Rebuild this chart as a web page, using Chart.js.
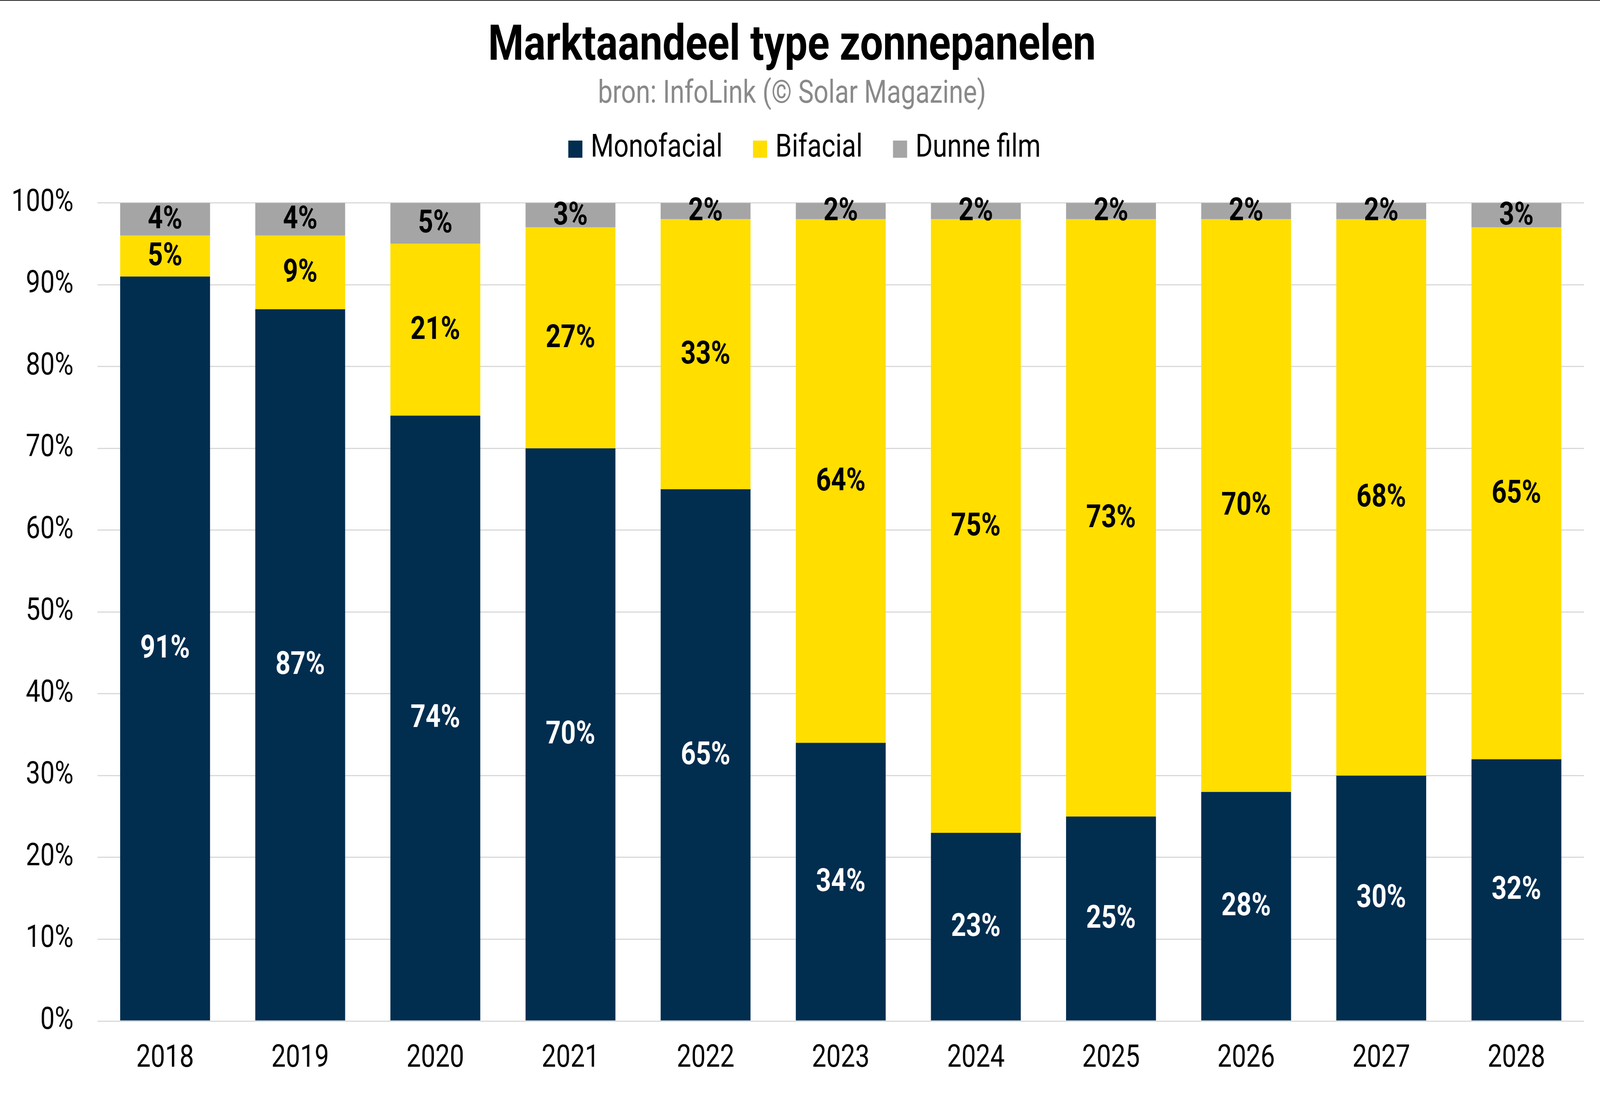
<!DOCTYPE html>
<html>
<head>
<meta charset="utf-8">
<title>Marktaandeel type zonnepanelen</title>
<script src="https://cdn.jsdelivr.net/npm/chart.js@4.4.1/dist/chart.umd.min.js"></script>
<style>
html,body{margin:0;padding:0;background:#fff;overflow:hidden;width:100%;height:100%}
canvas{display:block}
</style>
</head>
<body>
<canvas id="c" width="4989" height="2807" style="width:100vw;height:100vh"></canvas>
<script>
// ─── DATA ────────────────────────────────────────────────────
const years=['2018','2019','2020','2021','2022','2023','2024','2025','2026','2027','2028'];
const mono=[91,87,74,70,65,34,23,25,28,30,32];
const bifacial=[5,9,21,27,33,64,75,73,70,68,65];
const thinFilm=[4,4,5,3,2,2,2,2,2,2,3];
const seriesNames=['Monofacial','Bifacial','Dunne film'];
const yTicks=[0,10,20,30,40,50,60,70,80,90,100];

// ─── STYLE ───────────────────────────────────────────────────
const NAVY='#012d4f',YEL='#ffde00',GRY='#a5a5a5',GRID='#d9d9d9';
Chart.defaults.font.family='Roboto';
Chart.defaults.color='#000';

// bg + thin top rule
const bgPlug={id:'bg',
  beforeDraw(chart){const ctx=chart.ctx;ctx.save();ctx.fillStyle='#fff';ctx.fillRect(0,0,chart.width,chart.height);
    ctx.fillStyle='#222';ctx.fillRect(0,0,chart.width,2);ctx.restore()}
};
// legend row — drawn by hand so it sits between subtitle and plot
const legendRow={id:'legendRow',
  afterDraw(chart){
    const ctx=chart.ctx,cy=378,box=44,gap=26,sp=95;
    ctx.save();ctx.font='400 82px Roboto';ctx.textBaseline='middle';ctx.textAlign='left';
    const items=chart.data.datasets.map(d=>({t:d.label,c:d.backgroundColor,w:ctx.measureText(d.label).width}));
    const tot=items.reduce((s,it)=>s+box+gap+it.w,0)+sp*(items.length-1);
    let x=chart.width/2+14-tot/2;
    items.forEach(it=>{ctx.fillStyle=it.c;ctx.fillRect(x,cy-box/2+4,box,box);
      ctx.fillStyle='#000';ctx.fillText(it.t,x+box+gap,cy+2);x+=box+gap+it.w+sp});
    ctx.restore()}
};
// segment labels, centred in each stacked piece
const segLabels={id:'segLabels',
  afterDatasetsDraw(chart){
    const ctx=chart.ctx;ctx.save();ctx.font='700 82px Roboto';ctx.textAlign='center';ctx.textBaseline='middle';
    chart.data.datasets.forEach((ds,di)=>{const meta=chart.getDatasetMeta(di);if(meta.hidden)return;
      ctx.fillStyle=di===0?'#fff':'#000';
      meta.data.forEach((el,i)=>{const v=ds.data[i];if(v==null)return;
        ctx.fillText(Math.round(v)+'%',el.x,(el.y+el.base)/2+3)})});
    ctx.restore()}
};

const mk=(label,data,color)=>({label,data,backgroundColor:color,borderWidth:0,barPercentage:0.665,categoryPercentage:1});

new Chart(document.getElementById('c'),{
  type:'bar',
  data:{labels:years,datasets:[mk(seriesNames[0],mono,NAVY),mk(seriesNames[1],bifacial,YEL),mk(seriesNames[2],thinFilm,GRY)]},
  options:{responsive:false,devicePixelRatio:1,animation:false,
    layout:{padding:{top:0,right:50,bottom:0,left:0}},
    plugins:{
      title:{display:true,text:'Marktaandeel type zonnepanelen',color:'#000',font:{size:127,weight:'700'},padding:{top:45,bottom:0}},
      subtitle:{display:true,text:'bron: InfoLink (© Solar Magazine)',color:'#898989',font:{size:81},padding:{top:-3,bottom:228}},
      legend:{display:false},
      tooltip:{enabled:false}
    },
    scales:{
      x:{stacked:true,grid:{display:false},border:{display:false},
        ticks:{font:{size:80},color:'#000',padding:41},
        afterFit(s){s.height=192}},
      y:{stacked:true,min:0,max:100,border:{display:false},
        grid:{color:GRID,lineWidth:3,drawTicks:false},
        afterBuildTicks(s){s.ticks=yTicks.map(v=>({value:v}))},
        ticks:{font:{size:80},color:'#000',padding:75,callback:v=>v+'%'},
        afterFit(s){s.width=304}}
    }
  },
  plugins:[bgPlug,legendRow,segLabels]
});
</script>
</body>
</html>
